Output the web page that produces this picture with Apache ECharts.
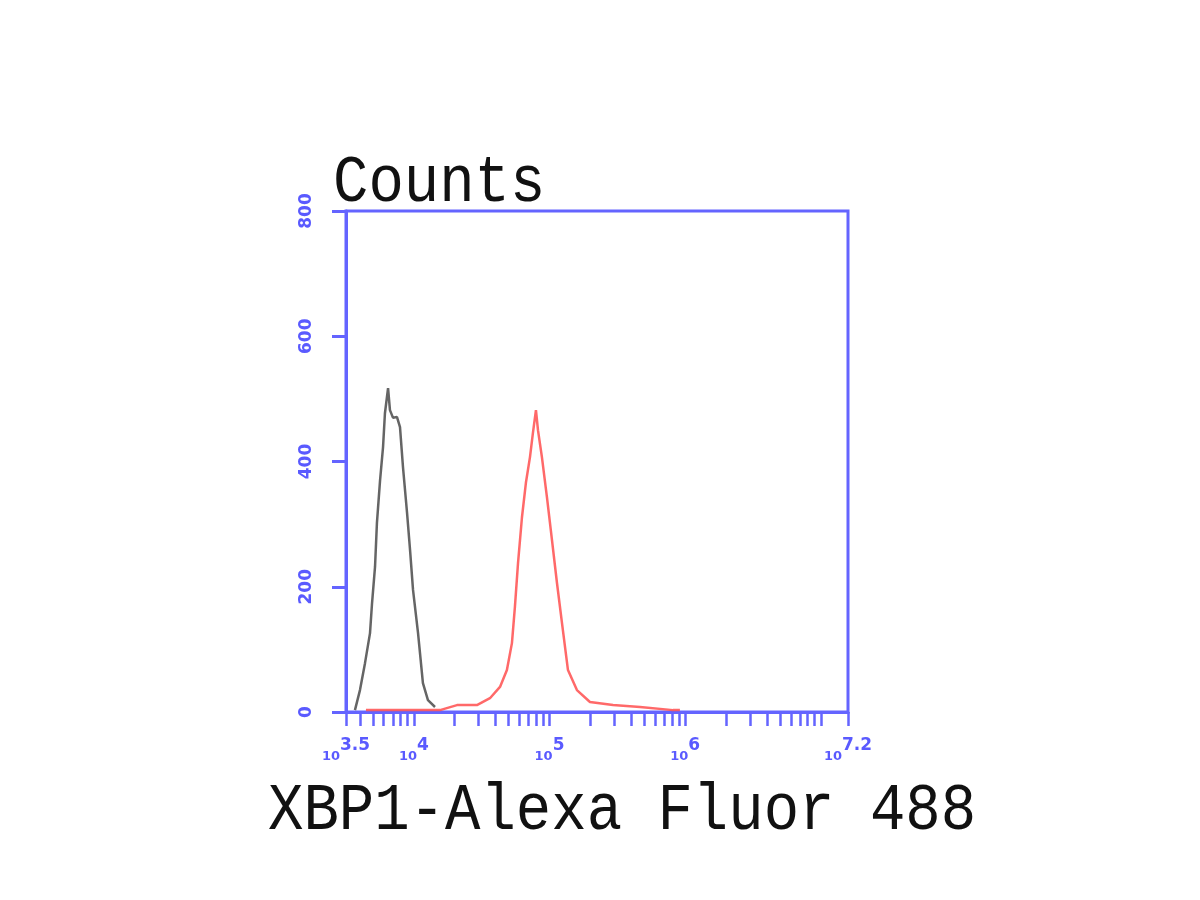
<!DOCTYPE html>
<html>
<head>
<meta charset="utf-8">
<script src="https://cdn.jsdelivr.net/npm/echarts@6/dist/echarts.min.js"></script>
<style>html,body{margin:0;padding:0;background:#fff}#c{width:1200px;height:900px}</style>
</head>
<body>
<div id="c"></div>
<script>
// x values are log10(fluorescence intensity)
const controlLogX = [3.566, 3.603, 3.640, 3.677, 3.692, 3.714, 3.728, 3.751, 3.773, 3.787, 3.810, 3.824, 3.846, 3.876, 3.898, 3.920, 3.950, 3.972, 3.994, 4.031, 4.067, 4.104, 4.156];
const controlCounts = [3, 35, 78, 126, 174, 232, 302, 370, 423, 477, 517, 482, 470, 471, 455, 391, 318, 259, 195, 126, 46, 19, 8];
const xbp1LogX = [3.647, 4.193, 4.318, 4.465, 4.561, 4.635, 4.686, 4.723, 4.745, 4.768, 4.797, 4.826, 4.856, 4.878, 4.900, 4.915, 4.944, 4.981, 5.018, 5.055, 5.092, 5.136, 5.202, 5.298, 5.468, 5.667, 5.910, 5.961];
const xbp1Counts = [3, 3, 11, 11, 22, 40, 67, 110, 168, 238, 311, 366, 407, 446, 482, 450, 407, 343, 275, 206, 142, 67, 35, 16, 11, 8, 3, 3];
const xLabelExponents = [3.5, 4, 5, 6, 7.2];
const yTickValues = [0, 200, 400, 600, 800];
const yTitle = 'Counts';
const xTitle = 'XBP1-Alexa Fluor 488';

const BLUE = '#6464ff';
const LABEL_BLUE = '#5a5aff';
const xMin = 3.5, xMax = 7.2;
// log-scale tick marks k*10^n inside the axis range
const xTicks = [xMin];
for (let n = 3; n <= 7; n++) {
  for (let k = 1; k <= 9; k++) {
    const v = Math.log10(k * Math.pow(10, n));
    if (v > xMin + 1e-6 && v < xMax - 1e-6) xTicks.push(v);
  }
}
xTicks.push(xMax);

const chart = echarts.init(document.getElementById('c'), null, {renderer: 'canvas'});
chart.setOption({
  backgroundColor: '#ffffff',
  animation: false,
  grid: {left: 346, top: 211, width: 502, height: 501, show: true, borderColor: BLUE, borderWidth: 3, backgroundColor: 'transparent'},
  xAxis: {
    type: 'value', min: xMin, max: xMax,
    splitLine: {show: false},
    axisLine: {show: true, onZero: false, lineStyle: {color: BLUE, width: 3}},
    axisTick: {show: true, customValues: xTicks, length: 14, lineStyle: {color: BLUE, width: 2.5}},
    axisLabel: {
      customValues: xLabelExponents,
      margin: 25,
      formatter: v => '{b|10}{e|' + v + '}',
      rich: {
        b: {fontSize: 13, fontWeight: 'bold', color: LABEL_BLUE, fontFamily: 'DejaVu Sans', verticalAlign: 'bottom', lineHeight: 26},
        e: {fontSize: 17, fontWeight: 'bold', color: LABEL_BLUE, fontFamily: 'DejaVu Sans', verticalAlign: 'top', lineHeight: 26}
      }
    }
  },
  yAxis: {
    type: 'value', min: 0, max: 800, interval: 200,
    splitLine: {show: false},
    axisLine: {show: true, onZero: false, lineStyle: {color: BLUE, width: 3}},
    axisTick: {show: true, customValues: yTickValues, length: 14, lineStyle: {color: BLUE, width: 3}},
    axisLabel: {
      customValues: yTickValues,
      rotate: 90, margin: 31, fontSize: 17, fontWeight: 'bold', color: LABEL_BLUE, fontFamily: 'DejaVu Sans'
    }
  },
  series: [
    {
      name: 'Isotype control', type: 'line', showSymbol: false, z: 2,
      data: controlLogX.map((x, i) => [x, controlCounts[i]]),
      lineStyle: {color: '#4a4a4a', width: 2.5, opacity: 0.85}
    },
    {
      name: 'XBP1', type: 'line', showSymbol: false, z: 3,
      data: xbp1LogX.map((x, i) => [x, xbp1Counts[i]]),
      lineStyle: {color: '#ff4f4f', width: 2.5, opacity: 0.85}
    }
  ],
  graphic: [
    {type: 'text', x: 333, y: 183, scaleY: 1.12, z: 10,
     style: {text: yTitle, font: '59px "Liberation Mono"', fill: '#111', verticalAlign: 'middle', align: 'left'}},
    {type: 'text', x: 268, y: 811, scaleY: 1.12, z: 10,
     style: {text: xTitle, font: '59px "Liberation Mono"', fill: '#111', verticalAlign: 'middle', align: 'left'}}
  ]
});
</script>
</body>
</html>
